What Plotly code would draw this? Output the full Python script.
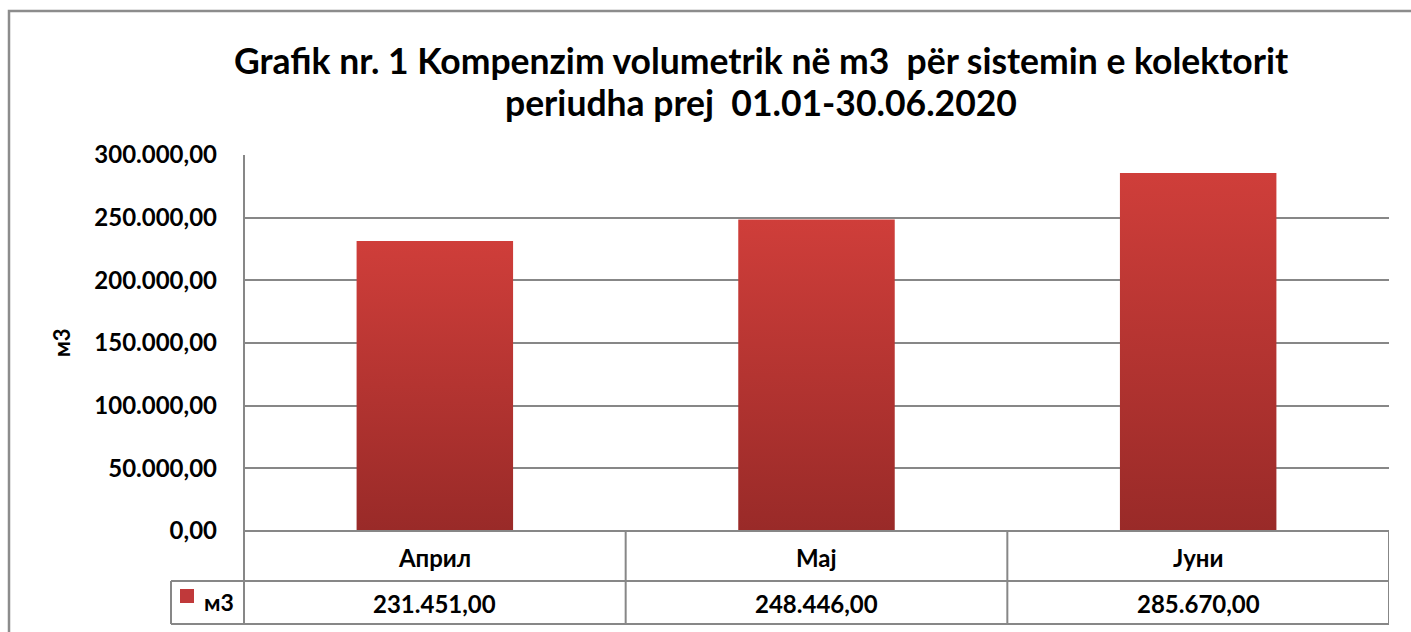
import plotly.graph_objects as go

categories = ["Април", "Мај", "Јуни"]
values = [231451.00, 248446.00, 285670.00]
series_name = "м3"
title_lines = ["Grafik nr. 1 Kompenzim volumetrik në m3  për sistemin e kolektorit",
               "periudha prej  01.01-30.06.2020"]
y_ticks = [0, 50000, 100000, 150000, 200000, 250000, 300000]

W, H = 1411, 632
L, R, T, B = 244, 1389, 155, 531  # plot area in reference pixels
FONT = "Lato"
GRID = "#878787"
TOP_C = "#cf3e3a"
BOT_C = "#992a28"


def px(x):
    return (x - L) / (R - L)


def py(y):
    return (B - y) / (B - T)


def eu(v):
    s = f"{v:,.2f}"
    return s.replace(",", "X").replace(".", ",").replace("X", ".")


fig = go.Figure()
bw = 0.41
for i, (c, v) in enumerate(zip(categories, values)):
    fig.add_trace(go.Scatter(
        x=[i - bw / 2, i + bw / 2, i + bw / 2, i - bw / 2, i - bw / 2],
        y=[0, 0, v, v, 0],
        mode="lines", line=dict(width=0), fill="toself",
        fillgradient=dict(type="vertical", colorscale=[[0, BOT_C], [1, TOP_C]]),
        name=c, showlegend=False, hoverinfo="text", text=f"{c}: {eu(v)}",
    ))

shapes = []
# outer chart border
shapes.append(dict(type="rect", xref="paper", yref="paper", x0=px(9), x1=px(1450),
                   y0=py(11), y1=py(680), line=dict(color="#8c8c8c", width=2.5)))
lw = 2
# table horizontals
for y, x0 in [(B, L), (581, 171), (624, 171)]:
    shapes.append(dict(type="line", xref="paper", yref="paper", x0=px(x0), x1=1,
                       y0=py(y), y1=py(y), line=dict(color=GRID, width=lw)))
# left axis line extended through table
shapes.append(dict(type="line", xref="paper", yref="paper", x0=0, x1=0,
                   y0=1, y1=py(624), line=dict(color=GRID, width=lw)))
shapes.append(dict(type="line", xref="paper", yref="paper", x0=px(171), x1=px(171),
                   y0=py(581), y1=py(624), line=dict(color=GRID, width=lw)))
for i in range(len(categories)):
    shapes.append(dict(type="line", xref="x", yref="paper", x0=i + 0.5, x1=i + 0.5,
                       y0=0, y1=py(624), line=dict(color=GRID, width=lw)))
# legend key
shapes.append(dict(type="rect", xref="paper", yref="paper", x0=px(180), x1=px(194),
                   y0=py(603), y1=py(589), line=dict(width=0), fillcolor="#c0393a"))


def ann(x, y, text, size, xref="paper", xanchor="center", angle=0):
    return dict(x=x, xref=xref, y=y, yref="paper", text=f"<b>{text}</b>", showarrow=False,
                xanchor=xanchor, yanchor="middle", textangle=angle,
                font=dict(family=FONT, size=size, color="black"))


annotations = []
for i, (c, v) in enumerate(zip(categories, values)):
    annotations.append(ann(i, py(557), c, 24, xref="x"))
    annotations.append(ann(i, py(603), eu(v), 24, xref="x"))
annotations.append(ann(px(202), py(602), series_name, 23, xanchor="left"))
annotations.append(ann(px(61), py(343), series_name, 22, angle=-90))
annotations.append(ann(px(761), py(60), title_lines[0], 35.5))
annotations.append(ann(px(761), py(103), title_lines[1], 35.5))

fig.update_layout(
    width=W, height=H,
    margin=dict(l=L, r=W - R, t=T, b=H - B),
    paper_bgcolor="white", plot_bgcolor="white",
    separators=",.",
    showlegend=False,
    shapes=shapes, annotations=annotations,
    xaxis=dict(range=[-0.5, len(categories) - 0.5], showticklabels=False, showgrid=False,
               zeroline=False, showline=False, fixedrange=True),
    yaxis=dict(range=[0, 300000], tickvals=y_ticks, tickformat=",.2f", showgrid=True,
               gridcolor=GRID, gridwidth=2, zeroline=False, showline=False,
               ticks="", ticklabelstandoff=26,
               tickfont=dict(family=FONT, size=24, color="black", weight="bold")),
)

fig.write_html("out.html", config={"displayModeBar": False},
               post_script="document.body.style.margin='0';document.body.style.overflow='hidden';")
